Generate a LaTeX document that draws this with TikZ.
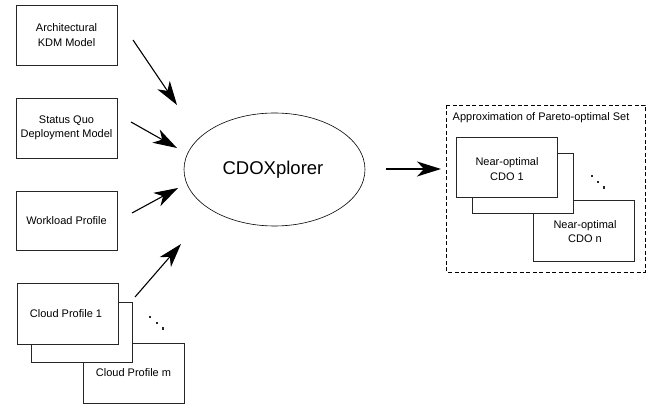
\documentclass[tikz,border=0pt]{standalone}
\usepackage{fontspec}
\setmainfont{Liberation Sans}
\usetikzlibrary{arrows.meta}
\begin{document}
\begin{tikzpicture}[x=1pt,y=-1pt,
  box/.style={draw=black!85,line width=0.8pt,fill=white},
  lbl/.style={font=\fontsize{11}{14.5}\selectfont,align=center,inner sep=0pt},
  arr/.style={line width=1.1pt,-{Stealth[length=24pt,width=15pt,inset=7pt]}},
  dotm/.style={fill=black!85,inner sep=0pt,minimum size=2.2pt}]
\useasboundingbox (0,0) rectangle (656,406);
% left input boxes
\draw[box] (16,5) rectangle (117,65);
\node[lbl] (kdm) at (66.5,35) {Architectural\\KDM Model};
\draw[box] (16,98) rectangle (117,158);
\node[lbl] (sq) at (66.5,128) {Status Quo\\Deployment Model};
\draw[box] (16,191) rectangle (117,250);
\node[lbl] (wl) at (66.5,220.5) {Workload Profile};
% cloud profile stack
\draw[box] (83,343) rectangle (184,403);
\node[lbl] (cpm) at (133.5,373) {Cloud Profile m};
\draw[box] (31,302) rectangle (132,362);
\draw[box] (17,283) rectangle (118,344);
\node[lbl] (cp1) at (66,313.5) {Cloud Profile 1};
\node[dotm] (cd1) at (150,317) {};
\node[dotm] (cd2) at (157,323) {};
\node[dotm] (cd3) at (163,328.5) {};
% ellipse
\draw[line width=0.6pt] (274.5,169.5) ellipse [x radius=90.5, y radius=56.5];
\node[inner sep=0pt,font=\fontsize{18.5}{22}\selectfont] (cdox) at (273,170) {CDOXplorer};
% result set
\draw[line width=0.8pt,dash pattern=on 4pt off 2.5pt] (446,105) rectangle (645,272);
\node[lbl,anchor=west] (title) at (452.5,118) {Approximation of Pareto-optimal Set};
\draw[box] (533,200) rectangle (634,261);
\node[lbl] (cdon) at (585,231.5) {Near-optimal\\CDO n};
\draw[box] (472,153) rectangle (573,213);
\draw[box] (456,137) rectangle (557,197);
\node[lbl] (cdo1) at (507,169) {Near-optimal\\CDO 1};
\node[dotm] (rd1) at (592,176) {};
\node[dotm] (rd2) at (598,182) {};
\node[dotm] (rd3) at (604,187.5) {};
% arrow endpoints
\coordinate (a1s) at (133,40);  \coordinate (a1e) at (177,105);
\coordinate (a2s) at (131,122); \coordinate (a2e) at (177,148);
\coordinate (a3s) at (132,213); \coordinate (a3e) at (178,188);
\coordinate (a4s) at (135,297); \coordinate (a4e) at (181,244);
\coordinate (a5s) at (386,169); \coordinate (a5e) at (441,169);
\draw[arr] (a1s) -- (a1e);
\draw[arr] (a2s) -- (a2e);
\draw[arr] (a3s) -- (a3e);
\draw[arr] (a4s) -- (a4e);
\draw[arr] (a5s) -- (a5e);
\end{tikzpicture}
\end{document}
